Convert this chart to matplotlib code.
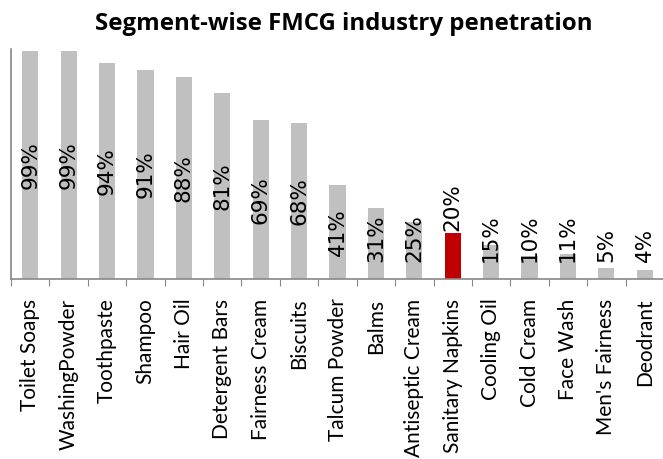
import matplotlib
matplotlib.use("Agg")
import matplotlib.pyplot as plt

segments = ["Toilet Soaps", "WashingPowder", "Toothpaste", "Shampoo", "Hair Oil",
            "Detergent Bars", "Fairness Cream", "Biscuits", "Talcum Powder", "Balms",
            "Antiseptic Cream", "Sanitary Napkins", "Cooling Oil", "Cold Cream",
            "Face Wash", "Men's Fairness", "Deodrant"]
penetration = [99, 99, 94, 91, 88, 81, 69, 68, 41, 31, 25, 20, 15, 10, 11, 5, 4]
highlight = "Sanitary Napkins"

fig = plt.figure(figsize=(6.63, 4.59), dpi=100)
ax = fig.add_axes([11/663, 1 - 279/459, 653/663, 230/459])

x = list(range(len(segments)))
colors = ["#C00000" if s == highlight else "#C0C0C0" for s in segments]
ax.bar(x, penetration, width=0.42, color=colors)

# value labels: centred in the bar, kept off the axis for short bars
px_per_unit = 230 / 100
for i, (s, v) in enumerate(zip(segments, penetration)):
    txt = "%d%%" % v
    if s == highlight:
        ax.text(i, v + 1, txt, rotation=90, ha="center", va="bottom", fontsize=15.5)
    elif v / 2 * px_per_unit - 22 > 17:
        ax.text(i, v / 2, txt, rotation=90, ha="center", va="center", fontsize=15.5)
    else:
        ax.text(i, 17 / px_per_unit, txt, rotation=90, ha="center", va="bottom", fontsize=15.5)

ax.set_xlim(-0.5, len(segments) - 0.5)
ax.set_ylim(0, 100)
ax.set_yticks([])
ax.set_xticks([i - 0.5 for i in range(len(segments) + 1)], minor=False)
ax.set_xticklabels([])
ax.set_xticks(x, minor=True)
ax.set_xticklabels(segments, minor=True, rotation=90, fontsize=15, family="Lato")
ax.tick_params(axis="x", which="major", length=5, color="#888888", direction="out")
ax.tick_params(axis="x", which="minor", length=0, pad=14)
for side in ["top", "right"]:
    ax.spines[side].set_visible(False)
ax.spines["left"].set_color("#888888")
ax.spines["bottom"].set_color("#888888")
ax.spines["left"].set_linewidth(1.2)
ax.spines["bottom"].set_linewidth(1.2)

fig.text(0.518, 1 - 24/459, "Segment-wise FMCG industry penetration", ha="center",
         va="center", fontsize=17.3, fontweight="bold", family="Open Sans")

fig.savefig("out.png", dpi=100)
